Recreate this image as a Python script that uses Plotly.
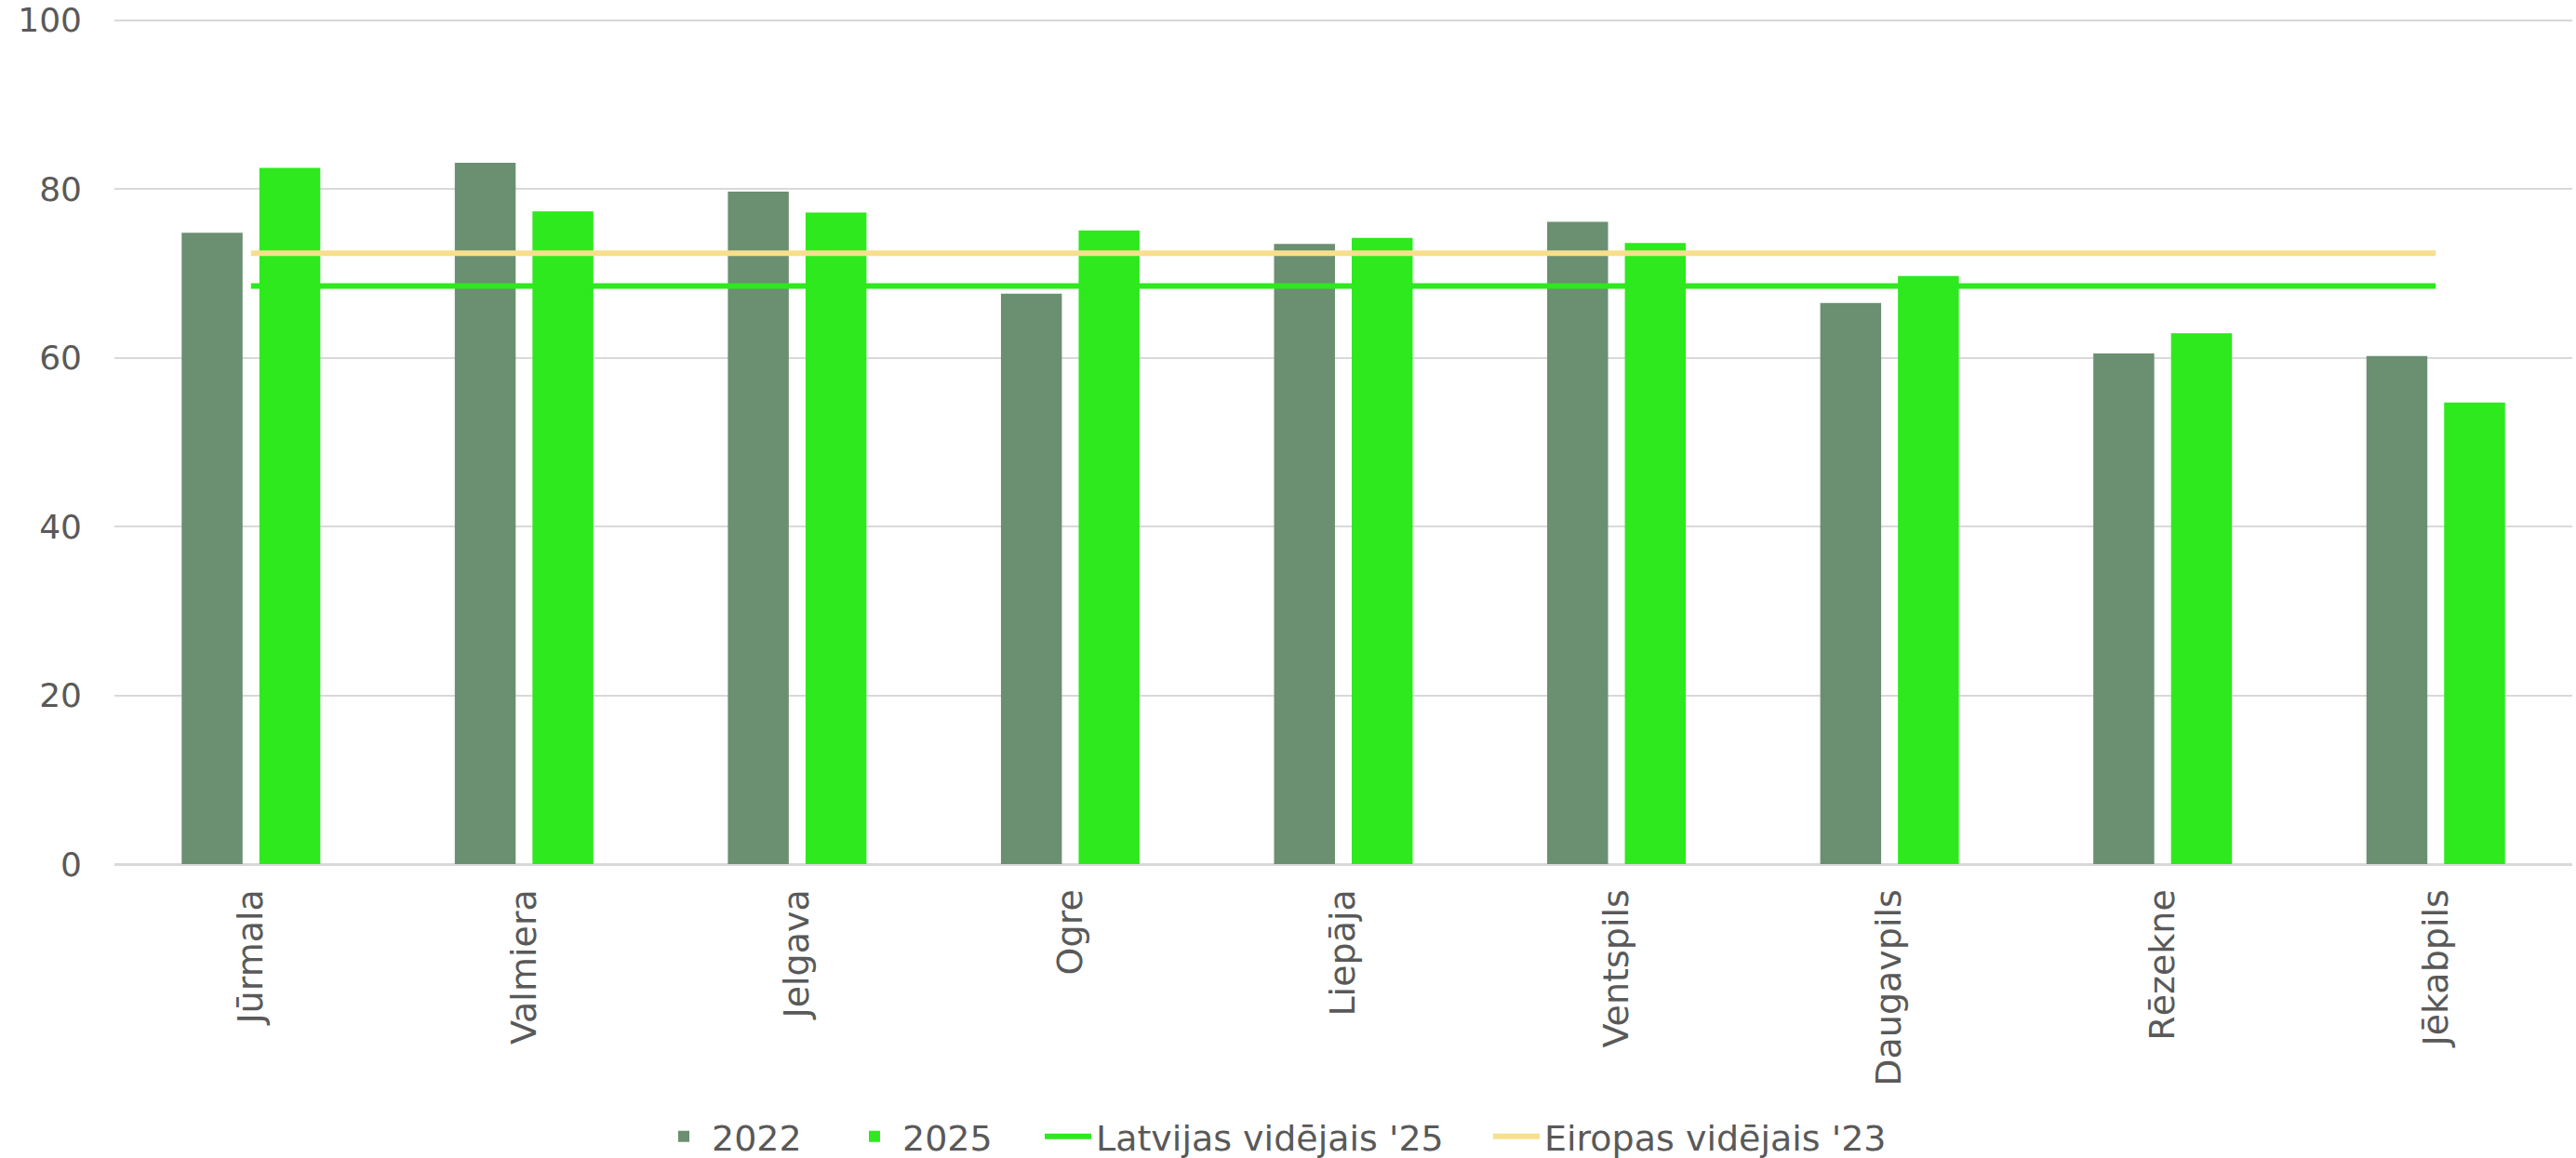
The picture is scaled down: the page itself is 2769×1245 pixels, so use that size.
import plotly.graph_objects as go

cities = ["Jūrmala", "Valmiera", "Jelgava", "Ogre", "Liepāja", "Ventspils", "Daugavpils", "Rēzekne", "Jēkabpils"]
values_2022 = [74.8, 83.1, 79.7, 67.6, 73.5, 76.1, 66.5, 60.5, 60.2]
values_2025 = [82.5, 77.35, 77.2, 75.1, 74.2, 73.6, 69.7, 62.9, 54.7]
latvia_avg_25 = [68.5, 68.5, 68.5, 68.5, 68.5, 68.5, 68.5, 68.5, 68.5]
europe_avg_23 = [72.4, 72.4, 72.4, 72.4, 72.4, 72.4, 72.4, 72.4, 72.4]
y_ticks = [0, 20, 40, 60, 80, 100]

c2022 = "#6B8F71"
c2025 = "#2DE91D"
cEU = "#F7DF8D"
txt = "#595959"
font_family = "DejaVu Sans, Verdana, sans-serif"

fig = go.Figure()
fig.add_trace(go.Bar(name="2022", x=cities, y=values_2022, marker=dict(color=c2022, line=dict(width=0)),
                     legend="legend"))
fig.add_trace(go.Bar(name="2025", x=cities, y=values_2025, marker=dict(color=c2025, line=dict(width=0)),
                     legend="legend2"))
fig.add_trace(go.Scatter(name="Latvijas vidējais '25", x=cities, y=latvia_avg_25, mode="lines",
                         line=dict(color=c2025, width=6), legend="legend3"))
fig.add_trace(go.Scatter(name="Eiropas vidējais '23", x=cities, y=europe_avg_23, mode="lines",
                         line=dict(color=cEU, width=6), legend="legend4"))

W, H = 2769, 1245


def leg(xpx):
    return dict(orientation="h", xref="container", yref="container",
                x=xpx / W, xanchor="left", y=23 / H, yanchor="middle",
                font=dict(size=38, color=txt), itemwidth=50,
                bgcolor="rgba(0,0,0,0)", borderwidth=0)


fig.update_layout(
    width=W, height=H,
    margin=dict(l=123, r=4, t=19, b=316),
    paper_bgcolor="white", plot_bgcolor="white",
    font=dict(family=font_family, size=36, color=txt),
    barmode="group", bargap=0.431, bargroupgap=0.216,
    showlegend=True,
    legend=leg(705), legend2=leg(910), legend3=leg(1118), legend4=leg(1600),
)
fig.update_xaxes(tickangle=-90, showgrid=False, showline=True, linecolor="#D9D9D9", linewidth=2,
                 ticks="", automargin=False,
                 tickfont=dict(size=38, color=txt), ticklabelstandoff=10)
fig.update_yaxes(range=[0, 100.3], tickvals=y_ticks, showgrid=True, gridcolor="#D9D9D9", gridwidth=2,
                 zeroline=True, zerolinecolor="#D9D9D9", zerolinewidth=2, ticks="",
                 ticklabeloverflow="allow", automargin=False,
                 tickfont=dict(size=36, color=txt), ticklabelstandoff=34)

fig.write_html("out.html", config={"displayModeBar": False},
               post_script="document.body.style.margin='0';")
